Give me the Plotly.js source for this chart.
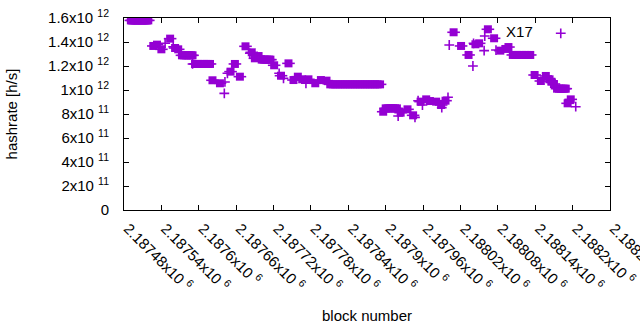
<!DOCTYPE html>
<html>
<head>
<meta charset="utf-8">
<script src="https://cdn.plot.ly/plotly-3.0.1.min.js"></script>
<style>html,body{margin:0;padding:0;background:#fff;}</style>
</head>
<body>
<div id="chart" style="width:640px;height:330px;"></div>
<script>
// Blocks drawn as filled squares
const squareBlocks = [
  2187491,2187493,2187495,2187497,2187499,2187501,2187503,2187505,2187507,2187509,2187511,2187513,2187515,2187517,2187519,
  2187527,2187533,2187540,2187554,2187562,2187567,
  2187573,2187576,2187579,2187582,2187585,2187588,2187590,
  2187594,2187597,2187600,2187603,2187606,2187609,2187612,2187615,2187618,
  2187622,2187634,2187651,2187658,2187666,2187675,2187685,2187690,2187696,
  2187701,2187704,2187707,2187710,2187713,2187715,
  2187721,2187732,2187744,2187752,2187759,2187766,2187776,2187787,2187796,2187805,
  2187811,2187815,2187819,2187823,2187827,2187831,2187835,2187839,2187843,2187847,2187851,2187855,2187859,2187863,2187867,2187871,2187875,2187879,2187883,2187887,2187891,
  2187896,2187900,2187903,2187906,2187909,2187912,2187915,2187918,
  2187924,2187935,2187944,2187956,2187965,2187971,2187981,2187989,2187996,
  2188009,2188021,2188033,2188044,2188050,2188064,2188074,2188084,2188092,2188097,
  2188104,2188108,2188112,2188116,2188120,2188124,2188128,2188132,
  2188139,2188149,2188157,2188163,2188166,2188170,
  2188175,2188178,2188181,2188184,2188187,2188189,
  2188192,2188197
];
const squareRates = [
  1.58e12,1.58e12,1.58e12,1.58e12,1.58e12,1.58e12,1.58e12,1.58e12,1.58e12,1.58e12,1.58e12,1.58e12,1.58e12,1.58e12,1.58e12,
  1.367e12,1.378e12,1.339e12,1.428e12,1.35e12,1.339e12,
  1.289e12,1.289e12,1.289e12,1.289e12,1.289e12,1.289e12,1.289e12,
  1.217e12,1.217e12,1.217e12,1.217e12,1.217e12,1.217e12,1.217e12,1.217e12,1.217e12,
  1.081e12,1.056e12,1.153e12,1.217e12,1.111e12,1.364e12,1.314e12,1.264e12,1.283e12,
  1.253e12,1.253e12,1.253e12,1.253e12,1.253e12,1.253e12,
  1.206e12,1.119e12,1.222e12,1.083e12,1.111e12,1.089e12,1.089e12,1.056e12,1.083e12,1.078e12,
  1.047e12,1.047e12,1.047e12,1.047e12,1.047e12,1.047e12,1.047e12,1.047e12,1.047e12,1.047e12,1.047e12,1.047e12,1.047e12,1.047e12,1.047e12,1.047e12,1.047e12,1.047e12,1.047e12,1.047e12,1.047e12,
  0.819e12,0.847e12,0.847e12,0.847e12,0.847e12,0.847e12,0.847e12,0.847e12,
  0.811e12,0.839e12,0.789e12,0.903e12,0.922e12,0.908e12,0.903e12,0.875e12,0.911e12,
  1.481e12,1.367e12,1.292e12,1.381e12,1.389e12,1.506e12,1.431e12,1.328e12,1.342e12,1.358e12,
  1.292e12,1.292e12,1.292e12,1.292e12,1.292e12,1.292e12,1.292e12,1.292e12,
  1.125e12,1.075e12,1.117e12,1.089e12,1.069e12,1.05e12,
  1.011e12,1.011e12,1.011e12,1.011e12,1.011e12,1.011e12,
  0.889e12,0.922e12
];
// Blocks drawn only as plus signs
const plusBlocks = [
  2187546,2187559,2187590,2187641,2187642,2187646,2187682,2187729,2187736,2187772,
  2187920,2187947,2187952,2187959,2187990,2188000,2188002,2188040,2188041,2188058,
  2188059,2188077,2188205
];
const plusRates = [
  1.389e12,1.361e12,1.217e12,0.972e12,1.067e12,1.139e12,1.306e12,1.139e12,1.097e12,1.056e12,
  0.783e12,0.772e12,0.911e12,0.875e12,0.853e12,0.939e12,1.375e12,1.2e12,1.389e12,1.328e12,
  1.45e12,1.333e12,0.861e12
];
const seriesName = 'X17';
const xTickVals = [2187480,2187540,2187600,2187660,2187720,2187780,2187840,2187900,2187960,2188020,2188080,2188140,2188200,2188260];
const xTickMant = ['2.18748','2.18754','2.1876','2.18766','2.18772','2.18778','2.18784','2.1879','2.18796','2.18802','2.18808','2.18814','2.1882','2.18826'];
const yTickVals = [0,2e11,4e11,6e11,8e11,1e12,1.2e12,1.4e12,1.6e12];
const yTickText = ['0','2x10 <sup>11</sup>','4x10 <sup>11</sup>','6x10 <sup>11</sup>','8x10 <sup>11</sup>','1x10 <sup>12</sup>','1.2x10 <sup>12</sup>','1.4x10 <sup>12</sup>','1.6x10 <sup>12</sup>'];
const xTickText = xTickMant.map(m => m + 'x10 <sup>6</sup>');

const purple = '#9400D3';
const traces = [
  {x: squareBlocks, y: squareRates, type:'scatter', mode:'markers', showlegend:false, hoverinfo:'skip',
   marker:{symbol:'square', size:8, color:purple, line:{width:0}}},
  {x: squareBlocks, y: squareRates, type:'scatter', mode:'markers', showlegend:false, hoverinfo:'skip',
   marker:{symbol:'line-ew', size:9, color:purple, line:{width:1.6, color:purple}}},
  {x: plusBlocks, y: plusRates, type:'scatter', mode:'markers', name:'', showlegend:true,
   marker:{symbol:'cross-thin', size:7, color:purple, line:{width:1.6, color:purple}}}
];
const layout = {
  width:640, height:330,
  margin:{l:124, r:30, t:18, b:120},
  paper_bgcolor:'#fff', plot_bgcolor:'#fff',
  font:{family:'"Liberation Sans", Arial, sans-serif', size:15, color:'#000'},
  showlegend:true,
  legend:{x:0.782, y:1.005, xanchor:'left', yanchor:'top', bgcolor:'rgba(0,0,0,0)',
          title:{text:seriesName, side:'left', font:{size:15}}, font:{size:15}},
  xaxis:{range:[2187480,2188260], tickmode:'array', tickvals:xTickVals, ticktext:xTickText,
         tickangle:45, ticks:'inside', ticklen:5, tickcolor:'#000', showline:true, linecolor:'#000', linewidth:1,
         mirror:'ticks', showgrid:false, zeroline:false, ticklabeloverflow:'allow',
         ticklabelstandoff:3, ticklabelshift:4,
         title:{text:'block number', font:{size:15}, standoff:16}},
  yaxis:{range:[0,1.6e12], tickmode:'array', tickvals:yTickVals, ticktext:yTickText,
         ticks:'inside', ticklen:5, tickcolor:'#000', showline:true, linecolor:'#000', linewidth:1,
         mirror:'ticks', showgrid:false, zeroline:false, ticklabelstandoff:11,
         title:{text:'hashrate [h/s]', font:{size:15}, standoff:26}}
};
Plotly.newPlot('chart', traces, layout, {displayModeBar:false, staticPlot:true});
</script>
</body>
</html>
